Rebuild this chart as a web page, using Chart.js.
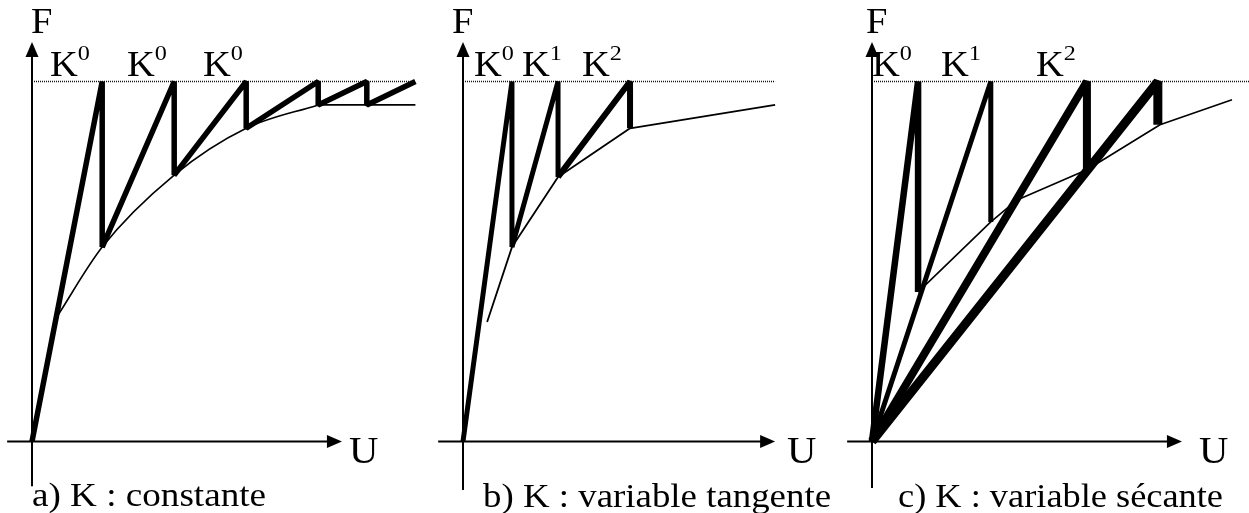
<!DOCTYPE html>
<html>
<head>
<meta charset="utf-8">
<script src="https://cdn.jsdelivr.net/npm/chart.js@4/dist/chart.umd.min.js"></script>
<style>
  html, body { margin: 0; padding: 0; background: #fff; overflow: hidden; }
  canvas { display: block; }
</style>
</head>
<body>
<canvas id="c" width="1249" height="513"></canvas>
<script>
// ---- data (U: displacement, F: force; yield level F = 10) ----
const yieldF = 10;

// a) constant stiffness K0
const aThickU = [0, 1.95, 1.95, 3.95, 3.95, 5.95, 5.95, 7.95, 7.95, 9.3, 9.3, 10.65];
const aThickF = [0, 10, 5.4, 10, 7.4, 10, 8.7, 10, 9.35, 10, 9.35, 10];
const aCurveU = [0.69, 1.95, 3.95, 5.95, 7.95];
const aCurveF = [3.46, 5.4, 7.4, 8.7, 9.35];
const aPlateauU = [7.95, 10.65];
const aPlateauF = [9.35, 9.35];
const aKLabels = ['0', '0', '0'];
const aCaption = 'a) K : constante';

// b) tangent stiffness
const bThickU = [0, 1.36, 1.36, 2.64, 2.64, 4.64, 4.64];
const bThickF = [0, 10, 5.4, 10, 7.35, 10, 8.7];
const bCurveU = [0.67, 1.36, 2.64, 4.64, 8.67];
const bCurveF = [3.32, 5.4, 7.35, 8.7, 9.35];
const bKLabels = ['0', '1', '2'];
const bCaption = 'b) K : variable tangente';

// c) secant stiffness: one ray from the origin per iteration, then the drop
const cPeakU = [1.28, 3.3, 5.97, 7.94];
const cDropF = [4.15, 6.1, 7.55, 8.8];
const cCurveU = [1.28, 3.3, 4.03, 5.97, 8.0, 10.0];
const cCurveF = [4.15, 6.1, 6.71, 7.55, 8.8, 9.49];
const cKLabels = ['0', '1', '2'];
const cCaption = 'c) K : variable sécante';

const axisNames = { force: 'F', disp: 'U' };

// ---- layout ----
const W = 1249, H = 513;
const UNIT = 36;          // pixels per data unit on both axes
const ORIGIN_Y = 441.5;
const FONT = '"Liberation Serif", "Times New Roman", serif';
const STRETCH = 1.1;      // horizontal stretch of the lettering

const panels = [
  { id: 'a', originX: 32, xAxis: [-0.69, 8.61], yAxis: [-1.24, 11.1], dotEnd: 10.65,
    fPos: [31, 33], uPos: [349, 463], kX: [50, 127, 203], kLabels: aKLabels,
    caption: aCaption, capX: [32, 266], capY: 506 },
  { id: 'b', originX: 463, xAxis: [-0.69, 8.67], yAxis: [-1.35, 11.1], dotEnd: 8.67,
    fPos: [452, 33], uPos: [787, 463], kX: [474, 522, 582], kLabels: bKLabels,
    caption: bCaption, capX: [483, 831], capY: 507 },
  { id: 'c', originX: 872, xAxis: [-0.69, 8.61], yAxis: [-1.29, 11.1], dotEnd: 10.6,
    fPos: [866, 33], uPos: [1199, 463], kX: [872, 941, 1036], kLabels: cKLabels,
    caption: cCaption, capX: [898, 1223], capY: 507 }
];

const pts = (us, fs) => us.map((u, i) => ({ x: u, y: fs[i] }));

function line(axis, data, width, extra) {
  return Object.assign({
    xAxisID: 'x' + axis, yAxisID: 'y', data,
    showLine: true, borderColor: '#000', borderWidth: width,
    borderJoinStyle: 'bevel', borderCapStyle: 'butt',
    pointRadius: 0, tension: 0, clip: false, order: 0
  }, extra || {});
}

const datasets = [];
// yield level (dotted)
panels.forEach(p => {
  datasets.push(line(p.id, [{ x: 0, y: yieldF }, { x: p.dotEnd, y: yieldF }], 1.5,
    { borderColor: '#111', borderDash: [1, 1], order: 3 }));
});
// response curves (thin)
datasets.push(line('a', pts(aCurveU, aCurveF), 1.6, { cubicInterpolationMode: 'monotone', order: 2 }));
datasets.push(line('a', pts(aPlateauU, aPlateauF), 1.6, { order: 2 }));
datasets.push(line('b', pts(bCurveU, bCurveF), 1.8, { order: 2 }));
datasets.push(line('c', pts(cCurveU, cCurveF), 1.6, { order: 2 }));
// iteration paths (thick)
datasets.push(line('a', pts(aThickU, aThickF), 5.5));
datasets.push(line('b', pts(bThickU.slice(0, 5), bThickF.slice(0, 5)), 5));
datasets.push(line('b', pts(bThickU.slice(4), bThickF.slice(4)), 6));
const cWidths = [6.5, 5, 8, 9];
cPeakU.forEach((u, i) => {
  datasets.push(line('c', [{ x: 0, y: 0 }, { x: u, y: yieldF }, { x: u, y: cDropF[i] }], cWidths[i]));
});

const scales = {
  y: { type: 'linear', display: false, min: -(H - ORIGIN_Y) / UNIT, max: ORIGIN_Y / UNIT }
};
panels.forEach(p => {
  scales['x' + p.id] = { type: 'linear', display: false, axis: 'x',
    min: -p.originX / UNIT, max: (W - p.originX) / UNIT };
});

function stretchedText(ctx, str, x, y, size, sx) {
  ctx.save();
  ctx.font = size + 'px ' + FONT;
  ctx.translate(x, y);
  ctx.scale(sx, 1);
  ctx.fillText(str, 0, 0);
  ctx.restore();
}

const axesAndLabels = {
  id: 'axesAndLabels',
  beforeDatasetsDraw(chart) {
    const ctx = chart.ctx;
    const ys = chart.scales.y;
    panels.forEach(p => {
      const xs = chart.scales['x' + p.id];
      const x0 = xs.getPixelForValue(0), y0 = ys.getPixelForValue(0);
      const xL = xs.getPixelForValue(p.xAxis[0]), xR = xs.getPixelForValue(p.xAxis[1]);
      const yB = ys.getPixelForValue(p.yAxis[0]), yT = ys.getPixelForValue(p.yAxis[1]);
      const head = 15, half = 6.5;
      ctx.save();
      ctx.strokeStyle = '#000';
      ctx.fillStyle = '#000';
      ctx.lineWidth = 2;
      ctx.beginPath();
      ctx.moveTo(xL, y0); ctx.lineTo(xR - head + 1, y0);
      ctx.moveTo(x0, yB); ctx.lineTo(x0, yT + head - 1);
      ctx.stroke();
      ctx.beginPath();
      ctx.moveTo(xR, y0); ctx.lineTo(xR - head, y0 - half); ctx.lineTo(xR - head, y0 + half);
      ctx.closePath(); ctx.fill();
      ctx.beginPath();
      ctx.moveTo(x0, yT); ctx.lineTo(x0 - half, yT + head); ctx.lineTo(x0 + half, yT + head);
      ctx.closePath(); ctx.fill();
      ctx.restore();
    });
  },
  afterDraw(chart) {
    const ctx = chart.ctx;
    ctx.save();
    ctx.fillStyle = '#000';
    ctx.textBaseline = 'alphabetic';
    ctx.textAlign = 'left';
    panels.forEach(p => {
      stretchedText(ctx, axisNames.force, p.fPos[0], p.fPos[1], 35, STRETCH);
      stretchedText(ctx, axisNames.disp, p.uPos[0], p.uPos[1], 37, STRETCH);
      p.kX.forEach((x, i) => {
        stretchedText(ctx, 'K', x, 76, 35, STRETCH);
        ctx.font = '35px ' + FONT;
        const kw = ctx.measureText('K').width * STRETCH;
        stretchedText(ctx, p.kLabels[i], x + kw, 60, 22, STRETCH);
      });
      ctx.font = '34px ' + FONT;
      const w = ctx.measureText(p.caption).width;
      const sx = (p.capX[1] - p.capX[0]) / w;
      stretchedText(ctx, p.caption, p.capX[0], p.capY, 34, sx);
    });
    ctx.restore();
  }
};

new Chart(document.getElementById('c'), {
  type: 'scatter',
  data: { datasets },
  options: {
    responsive: false,
    animation: false,
    events: [],
    layout: { padding: 0 },
    scales,
    plugins: { legend: { display: false }, tooltip: { enabled: false }, title: { display: false } }
  },
  plugins: [axesAndLabels]
});
</script>
</body>
</html>
